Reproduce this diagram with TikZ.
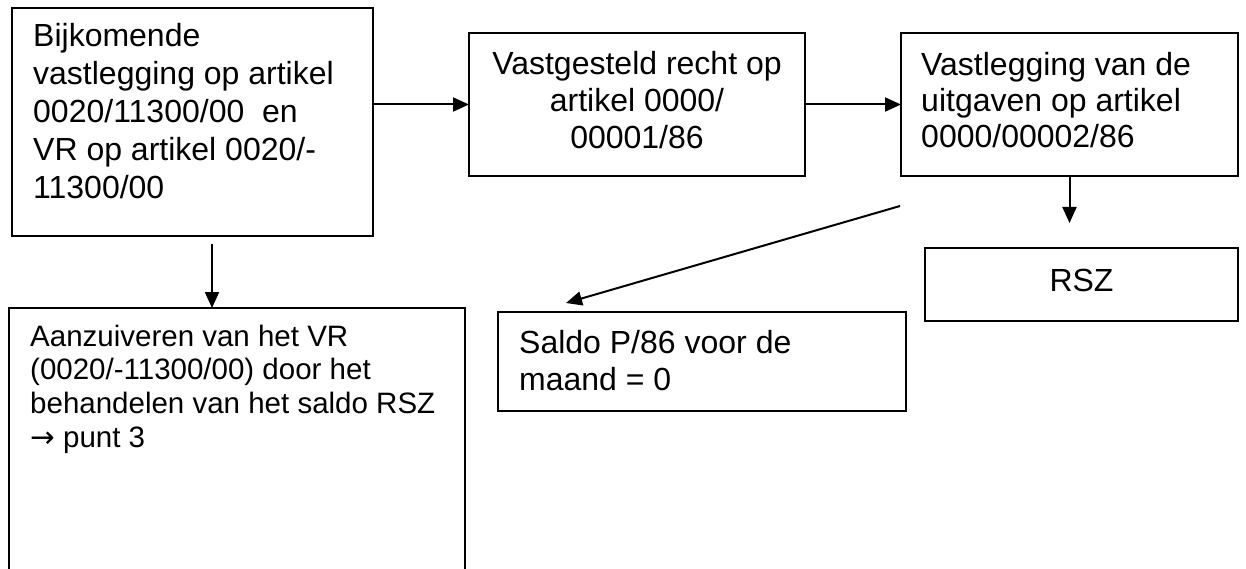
\documentclass[tikz,border=0pt]{standalone}
\usepackage{fontspec}
\setmainfont{Liberation Sans}
\newfontfamily\arrowfont{DejaVu Sans}
\usetikzlibrary{arrows.meta}
\newcommand\ltext[1]{\vtop{\halign{##\hfil\cr#1\crcr}}}
\newcommand\ctext[1]{\vtop{\halign{\hfil##\hfil\cr#1\crcr}}}
\tikzset{
  box/.style={draw, line width=2pt, rectangle, inner sep=0pt, outer sep=0pt},
  conn/.style={line width=2pt, -{Triangle[length=16pt,width=14pt]}},
  ltxt/.style={inner sep=0pt, anchor=base west},
  ctxt/.style={inner sep=0pt, anchor=base},
}
\begin{document}
\begin{tikzpicture}[x=1pt,y=-1pt]
\useasboundingbox (0,0) rectangle (1246,569);
\clip (0,0) rectangle (1246,569);
\fill[white] (0,0) rectangle (1246,569);
% boxes
\node[box, minimum width=361pt, minimum height=228pt] (b1) at (192.5,122) {};
\node[box, minimum width=336pt, minimum height=143pt] (b2) at (637,104.5) {};
\node[box, minimum width=337pt, minimum height=143pt] (b3) at (1069.5,104.5) {};
\node[box, minimum width=313pt, minimum height=73pt] (rsz) at (1081.5,284.5) {};
\node[box, minimum width=408pt, minimum height=99pt] (saldo) at (702,361.5) {};
\node[box, minimum width=456pt, minimum height=312pt] (b4) at (237,464) {};
% texts
\node[ltxt, font=\fontsize{32}{38}\selectfont] (t1) at (33,47)
  {\ltext{Bijkomende\cr vastlegging op artikel\cr 0020/11300/00\ \ en\cr VR op artikel 0020/-\cr 11300/00}};
\node[ctxt, font=\fontsize{32}{37}\selectfont] (t2) at (637,75)
  {\ctext{Vastgesteld recht op\cr artikel 0000/\cr 00001/86}};
\node[ltxt, font=\fontsize{32}{36}\selectfont] (t3) at (921,75.5)
  {\ltext{Vastlegging van de\cr uitgaven op artikel\cr 0000/00002/86}};
\node[ctxt, font=\fontsize{32}{36}\selectfont] (t4) at (1081.5,291) {RSZ};
\node[ltxt, font=\fontsize{32}{37}\selectfont] (t5) at (519,353)
  {\ltext{Saldo P/86 voor de\cr maand = 0}};
\node[ltxt, font=\fontsize{29.5}{33.7}\selectfont] (t6) at (30,346)
  {\ltext{Aanzuiveren van het VR\cr (0020/-11300/00) door het\cr behandelen van het saldo RSZ\cr {\arrowfont →} punt 3}};
% connectors
\coordinate (rszin) at (1069.5,223);
\coordinate (dstart) at (900,206);
\coordinate (dend) at (566,303);
\coordinate (a1) at (212,244);
\draw[conn] (b1.east |- b2.west) -- (b2.west);
\draw[conn] (b2.east) -- (b3.west);
\draw[conn] (b3.south) -- (rszin);
\draw[conn] (dstart) -- (dend);
\draw[conn] (a1) -- (a1 |- b4.north);
\end{tikzpicture}
\end{document}
